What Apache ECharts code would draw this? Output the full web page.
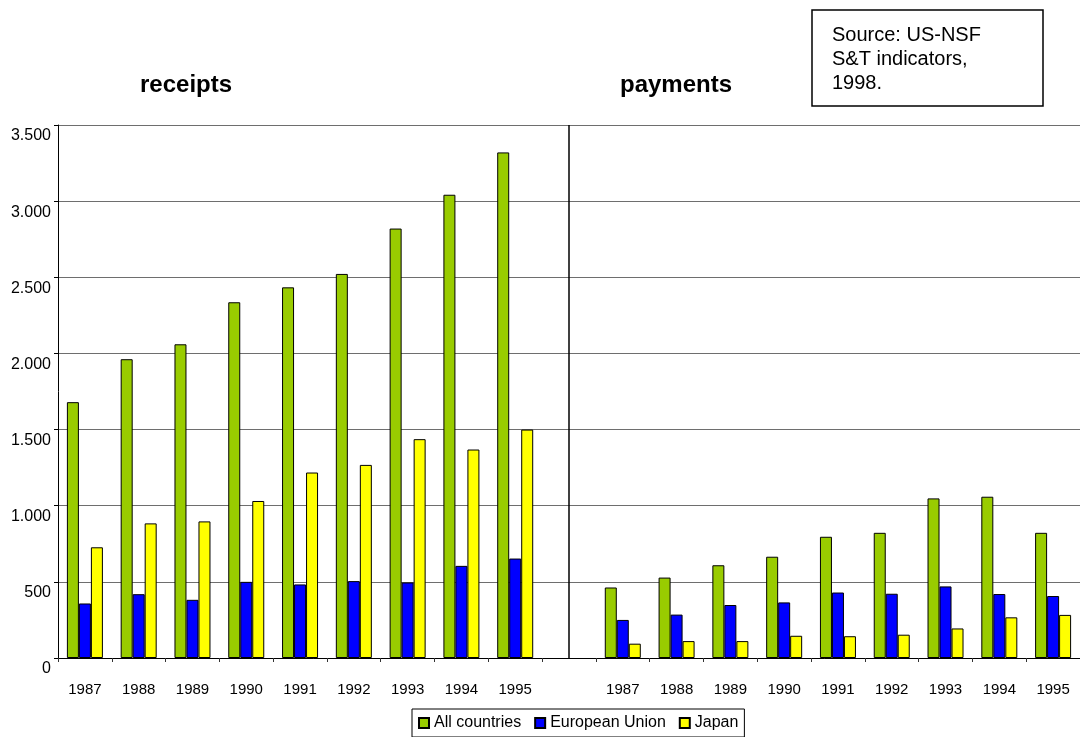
<!DOCTYPE html>
<html>
<head>
<meta charset="utf-8">
<script src="https://cdn.jsdelivr.net/npm/echarts@6/dist/echarts.min.js"></script>
<style>
  html, body { margin: 0; padding: 0; background: #fff; }
  #chart { width: 1080px; height: 737px; }
</style>
</head>
<body>
<div id="chart"></div>
<script>
// Years shown under each panel
const years = ['1987', '1988', '1989', '1990', '1991', '1992', '1993', '1994', '1995'];

// Receipts (left panel)
const receiptsAll = [1680, 1962, 2060, 2336, 2434, 2522, 2820, 3042, 3320];
const receiptsEU = [358, 419, 382, 500, 483, 505, 496, 605, 653];
const receiptsJapan = [727, 884, 897, 1031, 1218, 1268, 1437, 1369, 1500];

// Payments (right panel)
const paymentsAll = [463, 528, 609, 665, 796, 822, 1048, 1059, 822];
const paymentsEU = [250, 285, 348, 365, 430, 422, 470, 420, 407];
const paymentsJapan = [94, 111, 111, 146, 143, 153, 194, 267, 283];

const seriesNames = ['All countries', 'European Union', 'Japan'];
const seriesColors = ['#99CC00', '#0000FF', '#FFFF00'];
const yTicks = [0, 500, 1000, 1500, 2000, 2500, 3000, 3500];

// Both panels share one category axis, with an empty slot between them
const categories = years.concat(['']).concat(years);
const join = (a, b) => a.concat(['-']).concat(b);
const seriesData = [
  join(receiptsAll, paymentsAll),
  join(receiptsEU, paymentsEU),
  join(receiptsJapan, paymentsJapan)
];

const FONT = '"Liberation Sans", Arial, sans-serif';

const chart = echarts.init(document.getElementById('chart'), null, { renderer: 'canvas' });

const series = seriesNames.map((name, i) => {
  const s = {
    name: name,
    type: 'bar',
    data: seriesData[i],
    barWidth: 12,
    barGap: '0%',
    itemStyle: { color: seriesColors[i], borderColor: '#000', borderWidth: 1 },
    emphasis: { disabled: true },
    animation: false
  };
  if (i === 1) {
    // divider between the receipts and payments panels (middle series sits at the slot centre)
    s.markLine = {
      silent: true,
      symbol: ['none', 'none'],
      label: { show: false },
      lineStyle: { color: '#000', width: 1.5, type: 'solid' },
      data: [{ xAxis: years.length }]
    };
  }
  return s;
});

chart.setOption({
  backgroundColor: '#fff',
  animation: false,
  grid: { left: 58, right: 0, top: 125, bottom: 79, containLabel: false },
  legend: {
    data: seriesNames,
    left: 412,
    top: 709,
    padding: [6, 6, 6, 6],
    borderColor: '#000',
    borderWidth: 1,
    itemWidth: 10,
    itemHeight: 10,
    itemGap: 13,
    icon: 'rect',
    textStyle: { fontFamily: FONT, fontSize: 16, color: '#000' }
  },
  xAxis: {
    type: 'category',
    data: categories,
    axisLine: { show: true, lineStyle: { color: '#000', width: 1 } },
    axisTick: { show: true, length: 4, inside: false, lineStyle: { color: '#333' } },
    axisLabel: { fontFamily: FONT, fontSize: 15, color: '#000', margin: 24, interval: 0 },
    splitLine: { show: false }
  },
  yAxis: {
    type: 'value',
    min: yTicks[0],
    max: yTicks[yTicks.length - 1],
    interval: 500,
    axisLine: { show: true, lineStyle: { color: '#000', width: 1 } },
    axisTick: { show: true, length: 4, lineStyle: { color: '#000' } },
    axisLabel: {
      fontFamily: FONT, fontSize: 16, color: '#000', margin: 7,
      verticalAlign: 'top', padding: [3, 0, 0, 0],
      formatter: v => String(v).replace(/\B(?=(\d{3})+(?!\d))/g, '.')
    },
    splitLine: { show: true, lineStyle: { color: '#6e6e6e', width: 1 } }
  },
  series: series,
  graphic: [
    {
      type: 'text', left: 140, top: 73,
      style: { text: 'receipts', font: 'bold 24px ' + FONT, fill: '#000' }
    },
    {
      type: 'text', left: 620, top: 73,
      style: { text: 'payments', font: 'bold 24px ' + FONT, fill: '#000' }
    },
    {
      type: 'rect',
      shape: { x: 812, y: 10, width: 231, height: 96 },
      style: { fill: '#fff', stroke: '#000', lineWidth: 1.5 }
    },
    {
      type: 'text', x: 832, y: 23,
      style: {
        text: 'Source: US-NSF\nS&T indicators,\n1998.',
        font: '20px ' + FONT, lineHeight: 24, fill: '#000'
      }
    }
  ]
});
</script>
</body>
</html>
